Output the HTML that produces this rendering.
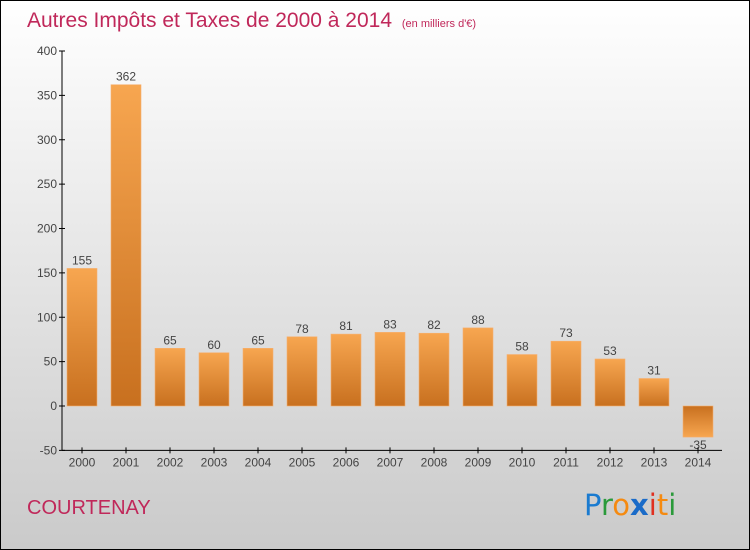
<!DOCTYPE html>
<html><head><meta charset="utf-8"><style>
body{margin:0}
#c{width:750px;height:550px;position:relative;overflow:hidden;font-family:"Liberation Sans",sans-serif}
</style></head><body>
<div id="c">
<svg id="s" width="750" height="550" xmlns="http://www.w3.org/2000/svg">
<defs>
<linearGradient id="bg" x1="0" y1="0" x2="0" y2="1"><stop offset="0" stop-color="#ffffff"/><stop offset="1" stop-color="#cacaca"/></linearGradient>
<linearGradient id="bp" x1="0" y1="0" x2="0" y2="1"><stop offset="0" stop-color="#f7a650"/><stop offset="1" stop-color="#c8701f"/></linearGradient>
<linearGradient id="bn" x1="0" y1="0" x2="0" y2="1"><stop offset="0" stop-color="#c8701f"/><stop offset="1" stop-color="#f7a650"/></linearGradient>
</defs>
<rect x="0.5" y="0.5" width="749" height="549" fill="url(#bg)" stroke="#000"/>
<text x="27" y="27" font-size="21" fill="#c0285a">Autres Impôts et Taxes de 2000 à 2014 <tspan font-size="11" dx="4">(en milliers d'€)</tspan></text>
<text x="27" y="514" font-size="20" fill="#c0285a">COURTENAY</text>
<g font-size="29" font-family="'DejaVu Sans',sans-serif">
<text x="584" y="515"><tspan fill="#1a7bd0">P</tspan><tspan fill="#2a9a3a">r</tspan><tspan fill="#f58a10">o</tspan><tspan fill="#1a6bc8" font-weight="bold">x</tspan><tspan fill="#e03020">i</tspan><tspan fill="#f58a10">t</tspan><tspan fill="#2a9a3a">i</tspan></text>
</g>
<g id="g"></g>
</svg>
</div>
<script>
const categories=["2000","2001","2002","2003","2004","2005","2006","2007","2008","2009","2010","2011","2012","2013","2014"];
const values=[155,362,65,60,65,78,81,83,82,88,58,73,53,31,-35];
const yTicks=[-50,0,50,100,150,200,250,300,350,400];
const NS="http://www.w3.org/2000/svg";
const g=document.getElementById('g');
const y=v=>406-v*0.8875;
const x=i=>82+i*44;
function el(t,a,txt){const e=document.createElementNS(NS,t);for(const k in a)e.setAttribute(k,a[k]);if(txt!==undefined)e.textContent=txt;g.appendChild(e);return e;}
const ax=el('line',{x1:62,y1:y(400),x2:62,y2:y(-50),stroke:'#000'});


const xa=el('line',{x1:62,y1:y(-50),x2:722,y2:y(-50),stroke:'#000'});


yTicks.forEach(t=>{
 const l=el('line',{x1:59,y1:y(t),x2:65,y2:y(t),stroke:'#000'});
 
 
 const tx=el('text',{x:57,y:y(t)+4,'font-size':12,fill:'#444','text-anchor':'end'},t);
 
 
});
categories.forEach((c,i)=>{
 const v=values[i];
 const top=Math.min(y(v),y(0)),h=Math.abs(y(v)-y(0));
 const r=el('rect',{x:x(i)-15,y:top,width:30,height:h,fill:v>=0?'url(#bp)':'url(#bn)',stroke:'#f6b070','stroke-width':0.6});
 
 
 const vl=el('text',{x:x(i),y:v>=0?y(v)-4:y(v)+12,'font-size':12,fill:'#444','text-anchor':'middle'},v);
 
 
 const tk=el('line',{x1:x(i),y1:y(-50)-3,x2:x(i),y2:y(-50)+3,stroke:'#000'});
 
 
 const xl=el('text',{x:x(i),y:y(-50)+16,'font-size':12,fill:'#444','text-anchor':'middle'},c);
 
 
});
</script>
</body></html>
